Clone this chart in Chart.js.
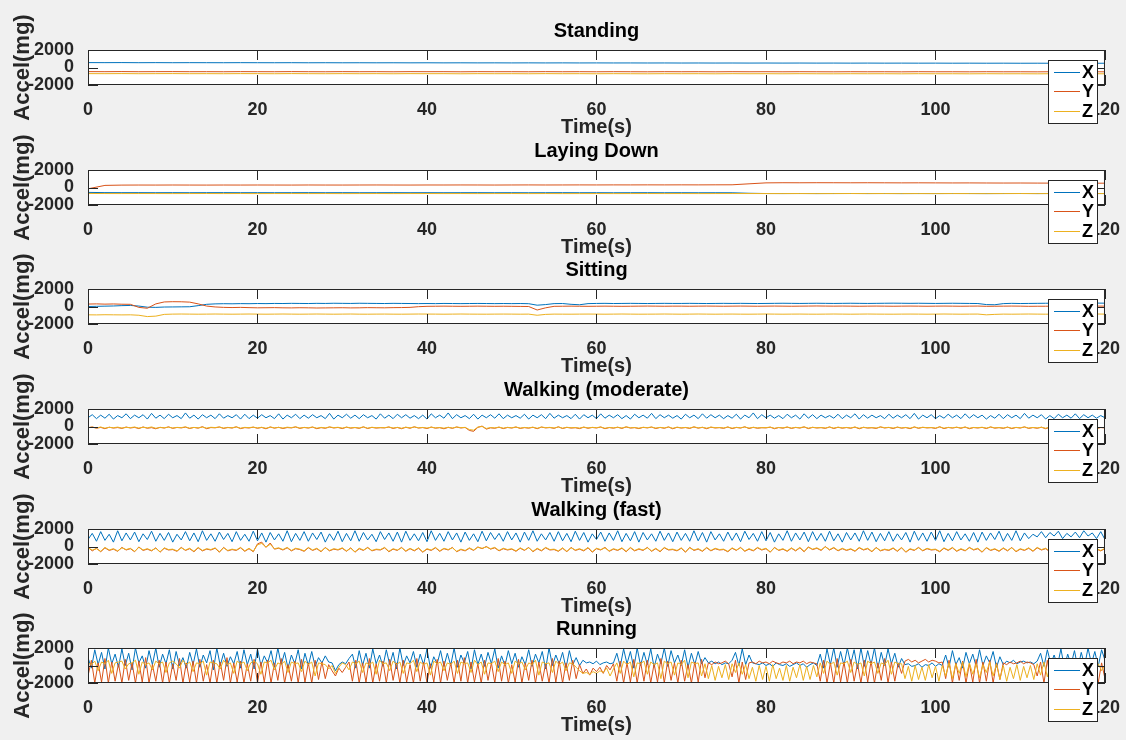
<!DOCTYPE html>
<html>
<head>
<meta charset="utf-8">
<title>Accelerometer activity recordings</title>
<script src="https://cdn.jsdelivr.net/npm/chart.js@4.4.1/dist/chart.umd.min.js"></script>
<style>
  html, body { margin: 0; padding: 0; background: #f0f0f0; width: 1126px; height: 740px; overflow: hidden; }
  #fig { position: relative; width: 1126px; height: 740px; background: #f0f0f0; }
  .panel { position: absolute; left: 0; width: 1126px; height: 170px; }
  .panel canvas { display: block; }
</style>
</head>
<body>
<div id="fig"></div>
<script>
// ---- sampling grids (seconds) ----
const tSlow = Array.from({ length: 61 }, (_, i) => i * 2);     // every 2 s
const tSit  = Array.from({ length: 121 }, (_, i) => i);        // every 1 s
const tWalk = Array.from({ length: 241 }, (_, i) => i * 0.5);  // every 0.5 s
const tRun  = Array.from({ length: 301 }, (_, i) => +(i * 0.4).toFixed(1)); // every 0.4 s

const axisLabels = { x: 'Time(s)', y: 'Accel(mg)' };
const seriesNames = ['X', 'Y', 'Z'];
const xTicks = [0, 20, 40, 60, 80, 100, 120];
const yTicks = [-2000, 0, 2000];
const activities = ['Standing', 'Laying Down', 'Sitting', 'Walking (moderate)', 'Walking (fast)', 'Running'];

// ---- Standing (mg) ----
const standX = [
  560, 555, 562, 550, 556, 548, 553, 550, 545, 552,
  547, 543, 549, 540, 546, 538, 542, 536, 541, 533,
  538, 530, 534, 528, 532, 525, 530, 522, 527, 520,
  524, 518, 521, 515, 519, 512, 516, 510, 514, 507,
  511, 505, 509, 502, 506, 500, 504, 497, 501, 495,
  499, 492, 496, 490, 494, 487, 491, 485, 489, 482,
  486];
const standY = [
  -470, -478, -465, -482, -474, -469, -480, -476, -485, -471,
  -477, -483, -468, -479, -486, -473, -481, -475, -488, -472,
  -480, -476, -490, -474, -482, -479, -487, -473, -484, -478,
  -489, -476, -483, -491, -478, -485, -480, -492, -477, -486,
  -482, -490, -479, -487, -493, -481, -488, -484, -495, -480,
  -489, -486, -494, -482, -490, -487, -496, -483, -491, -488,
  -492];
const standZ = [
  -700, -706, -695, -710, -702, -698, -708, -704, -712, -699,
  -705, -711, -697, -707, -714, -701, -709, -703, -716, -700,
  -708, -704, -718, -702, -710, -707, -715, -701, -712, -706,
  -717, -704, -711, -719, -706, -713, -708, -720, -705, -714,
  -710, -718, -707, -715, -721, -709, -716, -712, -723, -708,
  -717, -714, -722, -710, -718, -715, -724, -711, -719, -716,
  -720];

// ---- Laying down (mg) ----
const layX = [
  -560, -585, -590, -588, -593, -589, -595, -591, -587, -594,
  -590, -596, -592, -588, -595, -591, -597, -593, -589, -596,
  -592, -598, -594, -590, -597, -593, -599, -595, -591, -598,
  -594, -600, -596, -592, -599, -595, -601, -597, -600, -660,
  -690, -692, -688, -694, -690, -686, -692, -689, -694, -690,
  -693, -688, -691, -695, -690, -687, -693, -689, -694, -691,
  -690];
const layY = [
  -150, 240, 275, 282, 278, 285, 280, 276, 283, 279,
  284, 281, 277, 286, 282, 279, 285, 288, 283, 280,
  287, 284, 290, 286, 282, 289, 293, 287, 291, 296,
  292, 298, 295, 301, 297, 303, 299, 306, 310, 420,
  530, 545, 540, 548, 543, 538, 544, 536, 530, 534,
  527, 520, 524, 516, 510, 514, 505, 500, 503, 496,
  492];
const layZ = [
  -680, -690, -694, -688, -692, -696, -690, -687, -693, -689,
  -695, -691, -688, -694, -690, -697, -692, -689, -695, -691,
  -688, -694, -690, -696, -692, -689, -695, -691, -697, -693,
  -690, -695, -692, -688, -694, -690, -696, -692, -689, -690,
  -692, -694, -690, -696, -692, -688, -694, -691, -696, -692,
  -695, -690, -693, -697, -692, -689, -695, -691, -696, -693,
  -692];

// ---- Sitting (mg) ----
const sitX = [
  0, 20, 40, 60, 100, 120, 50, -80, -100, -60,
  -50, -40, -30, 100, 250, 300, 320, 310, 330, 320,
  340, 330, 350, 340, 360, 350, 340, 360, 350, 370,
  360, 350, 370, 360, 350, 340, 360, 350, 340, 330,
  340, 330, 350, 340, 330, 340, 350, 340, 330, 340,
  330, 340, 320, 150, 220, 330, 340, 250, 200, 330,
  350, 360, 340, 350, 360, 350, 340, 350, 360, 350,
  350, 360, 350, 340, 350, 360, 350, 360, 350, 340,
  350, 360, 370, 360, 350, 360, 370, 360, 350, 360,
  370, 360, 350, 360, 370, 380, 370, 360, 370, 360,
  350, 360, 370, 360, 350, 340, 220, 200, 330, 360,
  340, 350, 360, 370, 380, 390, 380, 370, 380, 390,
  380];
const sitY = [
  280, 300, 270, 290, 260, 250, -100, -200, 300, 520,
  550, 540, 500, 300, 50, -50, -100, -120, -100, -130,
  -150, -140, -130, -150, -160, -140, -150, -170, -160, -150,
  -140, -160, -150, -130, -140, -150, -130, -120, -100, -20,
  20, 30, 40, 30, 20, 30, 40, 30, 20, 30,
  20, 10, 0, -400, -150, 20, 30, 40, 30, 20,
  30, 40, 30, 20, 30, 40, 50, 40, 30, 40,
  40, 30, 40, 50, 40, 30, 40, 50, 40, 30,
  40, 50, 40, 30, 40, 50, 60, 50, 40, 50,
  40, 30, 40, 50, 40, 30, 40, 50, 40, 30,
  40, 50, 40, 30, 40, 50, 20, 30, 40, 50,
  40, 20, 30, 30, 40, 50, 40, 30, 40, 50,
  40];
const sitZ = [
  -950, -960, -940, -950, -960, -950, -1000, -1150, -1100, -900,
  -870, -860, -870, -880, -870, -860, -870, -880, -870, -860,
  -870, -880, -870, -860, -870, -880, -870, -860, -870, -880,
  -870, -860, -875, -880, -870, -865, -875, -880, -870, -860,
  -865, -870, -880, -870, -860, -870, -875, -880, -870, -865,
  -870, -880, -870, -1000, -900, -870, -875, -880, -870, -865,
  -870, -880, -870, -860, -870, -880, -875, -870, -860, -870,
  -880, -870, -860, -870, -880, -870, -865, -875, -880, -870,
  -860, -870, -880, -870, -865, -875, -880, -870, -860, -870,
  -880, -870, -860, -870, -875, -880, -870, -865, -870, -880,
  -870, -860, -870, -880, -870, -865, -950, -900, -870, -880,
  -870, -860, -870, -880, -870, -865, -875, -880, -870, -860,
  -870];

// ---- Walking, moderate pace (mg) ----
const walkModX = [
  1000, 1350, 900, 1300, 950, 1400, 850, 1250, 1000, 1450,
  900, 1300, 1000, 1350, 850, 1500, 950, 1300, 900, 1400,
  1000, 1250, 900, 1550, 950, 1300, 850, 1350, 1000, 1300,
  900, 1450, 950, 1250, 1000, 1350, 850, 1400, 900, 1300,
  950, 1350, 1000, 1250, 900, 1450, 850, 1300, 1000, 1400,
  900, 1300, 950, 1350, 1000, 1250, 900, 1500, 850, 1300,
  1000, 1400, 950, 1300, 900, 1350, 1000, 1250, 850, 1450,
  950, 1300, 900, 1400, 1000, 1350, 950, 1250, 900, 1300,
  850, 1450, 1000, 1300, 950, 1550, 900, 1350, 1000, 1250,
  900, 1400, 850, 1300, 1000, 1350, 950, 1450, 900, 1300,
  1000, 1250, 950, 1400, 850, 1300, 1000, 1350, 900, 1500,
  950, 1300, 1000, 1250, 900, 1400, 850, 1350, 1000, 1300,
  900, 1450, 950, 1300, 1000, 1350, 900, 1250, 850, 1400,
  1000, 1300, 950, 1500, 900, 1350, 1000, 1300, 950, 1250,
  850, 1400, 1000, 1300, 900, 1450, 950, 1350, 1000, 1300,
  900, 1250, 950, 1400, 850, 1300, 1000, 1550, 900, 1350,
  1000, 1300, 950, 1250, 900, 1400, 1000, 1300, 850, 1450,
  950, 1350, 900, 1300, 1000, 1250, 950, 1400, 900, 1300,
  1000, 1450, 850, 1350, 950, 1300, 1000, 1250, 900, 1400,
  950, 1300, 1000, 1350, 900, 1500, 850, 1300, 1000, 1350,
  900, 1250, 950, 1400, 1000, 1300, 900, 1450, 950, 1350,
  1000, 1300, 850, 1250, 950, 1400, 900, 1350, 1000, 1300,
  900, 1500, 950, 1300, 1000, 1350, 850, 1250, 900, 1400,
  1000, 1300, 950, 1450, 900, 1350, 1000, 1300, 950, 1250,
  1000];
const walkModY = [
  -150, -50, -200, -100, -250, -80, -180, -120, -220, -60,
  -170, -100, -240, -50, -200, -130, -260, -90, -180, -40,
  -210, -110, -160, -70, -230, -100, -190, -20, -250, -120,
  -150, -60, -220, -100, -180, -40, -240, -130, -170, -80,
  -200, -110, -260, -60, -190, -90, -230, -120, -160, -50,
  -220, -100, -180, -70, -250, -130, -200, -60, -170, -110,
  -240, -80, -190, -120, -210, -50, -230, -100, -180, -140,
  -160, -60, -220, -110, -250, -90, -200, -40, -180, -120,
  -230, -70, -190, -130, -260, -100, -210, -60, -170, -110,
  -450, -550, -100, 50, -300, -150, -200, -80, -240, -110,
  -180, -60, -220, -130, -190, -90, -250, -70, -160, -120,
  -210, -40, -230, -100, -180, -140, -240, -80, -200, -110,
  -170, -60, -250, -120, -190, -90, -220, -50, -180, -130,
  -240, -100, -160, -70, -230, -110, -200, -60, -260, -90,
  -180, -120, -220, -50, -190, -100, -250, -80, -170, -130,
  -210, -60, -240, -110, -180, -40, -230, -100, -200, -140,
  -160, -80, -250, -120, -190, -70, -220, -110, -180, -50,
  -240, -100, -170, -130, -210, -60, -230, -90, -190, -120,
  -200, -70, -260, -100, -180, -140, -220, -50, -170, -110,
  -230, -80, -190, -120, -250, -60, -210, -100, -160, -130,
  -220, -40, -240, -110, -180, -90, -200, -70, -250, -120,
  -170, -100, -230, -60, -190, -130, -210, -80, -240, -110,
  -180, -50, -220, -120, -200, -90, -250, -70, -170, -130,
  -210, -100, -190, -60, -240, -110, -180, -80, -230, -120,
  -160];
const walkModZ = [
  -120, -80, -160, -60, -190, -100, -140, -70, -170, -110,
  -130, -60, -180, -90, -150, -50, -200, -120, -140, -80,
  -170, -100, -130, -40, -190, -110, -150, -70, -180, -90,
  -120, -60, -170, -130, -140, -50, -190, -100, -130, -70,
  -160, -90, -200, -60, -150, -110, -180, -80, -130, -40,
  -170, -120, -140, -60, -190, -100, -160, -50, -130, -90,
  -180, -70, -150, -110, -170, -40, -190, -90, -140, -120,
  -130, -60, -170, -100, -200, -80, -150, -50, -140, -110,
  -180, -70, -160, -120, -190, -90, -170, -60, -130, -100,
  -350, -420, -60, 0, -220, -120, -160, -70, -190, -100,
  -140, -60, -180, -110, -150, -80, -200, -60, -130, -100,
  -170, -50, -190, -90, -140, -120, -180, -70, -160, -100,
  -130, -60, -200, -110, -150, -80, -170, -40, -140, -120,
  -190, -90, -130, -60, -180, -100, -160, -50, -200, -80,
  -140, -110, -170, -40, -150, -90, -190, -70, -130, -120,
  -160, -60, -190, -100, -140, -50, -180, -90, -150, -130,
  -130, -70, -200, -110, -150, -60, -170, -100, -140, -40,
  -190, -90, -140, -120, -170, -60, -180, -80, -150, -110,
  -160, -60, -200, -90, -140, -130, -170, -50, -130, -100,
  -180, -70, -150, -110, -190, -50, -160, -90, -130, -120,
  -170, -40, -190, -100, -140, -80, -160, -60, -200, -110,
  -130, -90, -180, -50, -150, -120, -170, -70, -190, -100,
  -140, -50, -170, -110, -160, -80, -200, -60, -130, -120,
  -170, -90, -150, -50, -190, -100, -140, -70, -180, -110,
  -130];

// ---- Walking, fast pace (mg) ----
const walkFastX = [
  800, 1500, 600, 1700, 700, 1400, 500, 1800, 650, 1550,
  750, 1650, 550, 1450, 800, 1750, 600, 1500, 700, 1600,
  500, 1400, 750, 1700, 650, 1550, 550, 1800, 700, 1450,
  600, 1650, 800, 1500, 550, 1700, 700, 1400, 600, 1750,
  650, 1550, 500, 1600, 750, 1450, 600, 1800, 550, 1500,
  700, 1700, 600, 1550, 800, 1650, 500, 1450, 700, 1750,
  550, 1500, 650, 1800, 600, 1600, 750, 1400, 550, 1700,
  800, 1550, 600, 1650, 500, 1750, 700, 1450, 650, 1600,
  550, 1800, 700, 1500, 600, 1700, 750, 1550, 500, 1650,
  700, 1450, 550, 1750, 650, 1600, 800, 1500, 600, 1700,
  750, 1550, 500, 1650, 700, 1800, 600, 1450, 750, 1600,
  600, 1700, 650, 1500, 550, 1750, 700, 1600, 500, 1450,
  800, 1650, 600, 1550, 700, 1800, 550, 1500, 650, 1700,
  500, 1600, 750, 1450, 600, 1750, 700, 1550, 550, 1650,
  700, 1500, 600, 1800, 650, 1600, 500, 1700, 750, 1450,
  600, 1650, 700, 1550, 550, 1750, 800, 1500, 600, 1700,
  650, 1600, 500, 1450, 700, 1800, 600, 1550, 750, 1650,
  550, 1700, 700, 1500, 600, 1750, 650, 1450, 500, 1600,
  750, 1550, 600, 1800, 700, 1650, 550, 1500, 650, 1700,
  600, 1450, 750, 1600, 500, 1750, 700, 1550, 600, 1650,
  700, 1800, 550, 1500, 650, 1700, 750, 1450, 600, 1600,
  500, 1650, 700, 1550, 800, 1750, 600, 1500, 700, 1800,
  650, 1550, 900, 1400, 1100, 1700, 1000, 1600, 1200, 1750,
  900, 1500, 1100, 1650, 1000, 1800, 1200, 1550, 900, 1700,
  800];
const walkFastY = [
  -100, -500, -200, -600, -150, -450, -300, -550, -100, -400,
  -250, -600, -50, -450, -300, -500, -150, -650, -200, -400,
  -350, -550, -100, -450, -250, -600, -150, -500, -300, -400,
  -200, -650, -100, -500, -350, -450, -150, -550, -250, -600,
  300, 500, -100, 400, -300, -200, -400, -150, -500, -250,
  -350, -550, -150, -450, -250, -600, -100, -500, -300, -400,
  -200, -550, -150, -650, -250, -450, -100, -500, -350, -400,
  -150, -600, -300, -450, -100, -550, -250, -500, -200, -650,
  -300, -450, -150, -550, -250, -400, -100, -600, -350, -500,
  -200, -450, -50, -250, 0, -300, -150, -500, -250, -400,
  -300, -550, -200, -450, -100, -600, -250, -500, -150, -400,
  -350, -550, -200, -600, -100, -450, -300, -500, -150, -650,
  -250, -400, -100, -550, -300, -450, -200, -600, -150, -500,
  -300, -450, -100, -550, -250, -600, -150, -400, -350, -500,
  -200, -650, -100, -450, -300, -550, -150, -500, -250, -400,
  -350, -600, -200, -450, -100, -550, -300, -500, -150, -400,
  -250, -650, -100, -450, -300, -550, -200, -500, -150, -600,
  -50, -350, -200, -450, 0, -400, -150, -500, -250, -450,
  -300, -550, -150, -400, -250, -600, -100, -500, -350, -450,
  -200, -550, -150, -650, -300, -450, -100, -500, -250, -400,
  -350, -600, -200, -450, -150, -550, -300, -500, -100, -400,
  -250, -650, -150, -450, -300, -550, -200, -500, -100, -600,
  -300, -450, -200, -550, -150, -400, -250, -600, -100, -500,
  -350, -450, -150, -550, -250, -400, -200, -600, -300, -500,
  -250];
const walkFastZ = [
  -150, -400, -250, -550, -100, -400, -250, -500, -150, -350,
  -200, -550, -100, -400, -250, -450, -200, -600, -150, -350,
  -300, -500, -150, -400, -200, -550, -100, -450, -250, -350,
  -150, -600, -150, -450, -300, -400, -100, -500, -200, -550,
  200, 350, -50, 250, -250, -150, -350, -100, -450, -200,
  -300, -500, -100, -400, -200, -550, -150, -450, -250, -350,
  -150, -500, -200, -600, -200, -400, -150, -450, -300, -350,
  -100, -550, -250, -400, -150, -500, -200, -450, -150, -600,
  -250, -400, -100, -500, -200, -350, -150, -550, -300, -450,
  -150, -400, -100, -200, -50, -250, -100, -450, -200, -350,
  -250, -500, -150, -400, -150, -550, -200, -450, -100, -350,
  -300, -500, -150, -550, -150, -400, -250, -450, -100, -600,
  -200, -350, -150, -500, -250, -400, -150, -550, -100, -450,
  -250, -400, -150, -500, -200, -550, -100, -350, -300, -450,
  -150, -600, -150, -400, -250, -500, -100, -450, -200, -350,
  -300, -550, -150, -400, -150, -500, -250, -450, -100, -350,
  -200, -600, -150, -400, -250, -500, -150, -450, -100, -550,
  -100, -300, -150, -400, -50, -350, -100, -450, -200, -400,
  -250, -500, -100, -350, -200, -550, -150, -450, -300, -400,
  -150, -500, -100, -600, -250, -400, -150, -450, -200, -350,
  -300, -550, -150, -400, -100, -500, -250, -450, -150, -350,
  -200, -600, -100, -400, -250, -500, -150, -450, -150, -550,
  -250, -400, -150, -500, -100, -350, -200, -550, -150, -450,
  -300, -400, -100, -500, -200, -350, -150, -550, -250, -450,
  -200];

// ---- Running (mg) ----
const runX = [
  900, -300, 1800, 100, 1500, -400, 2000, 200, 1300, -200,
  1900, 0, 1400, -500, 2000, 300, 1100, -300, 1700, 100,
  2000, -200, 1300, 200, 1800, -400, 1600, 0, 900, -300,
  1500, 100, 1900, -200, 1200, 300, 1700, -500, 2000, 0,
  1400, -100, 1000, 200, 1600, -300, 1800, 100, 1300, -400,
  1900, 0, 1100, 300, 1700, -200, 2000, 100, 1500, -300,
  1200, 200, 1800, -400, 1400, 0, 1600, -100, 900, 300,
  1100, 400, 300, -600, 100, 400, 200, 800, 1300, -300,
  1700, 0, 1400, -300, 1900, 200, 1200, -100, 1800, 100,
  1500, -400, 2000, 0, 1100, 300, 1600, -200, 1300, 100,
  1900, -300, 1000, 200, 1700, -100, 1400, 0, 2000, -200,
  1200, 300, 1600, -400, 1800, 100, 1300, -100, 1500, 200,
  1900, -300, 1100, 0, 1700, 200, 1400, -200, 1000, 100,
  1800, -100, 1300, 300, 1600, -400, 2000, 0, 1200, 200,
  1500, -300, 1700, 100, 900, 0, 600, 300, 400, 200,
  500, 100, 300, 400, 200, 300, 1400, -100, 1900, 200,
  1600, -300, 2000, 0, 1500, 100, 1900, -200, 1300, 200,
  2000, -100, 1700, 300, 1200, 0, 1800, -200, 1400, 100,
  1600, 200, 900, 300, 500, 200, 400, 100, 300, 200,
  600, 1500, 0, 1900, 100, 1200, 300, 200, 100, 300,
  0, 200, -100, 300, 100, 0, 200, -100, 100, 300,
  0, 200, -200, 100, 300, 0, 1300, -300, 1900, 100,
  2000, -200, 1600, 0, 2000, 200, 1800, -400, 2000, -100,
  1700, 100, 2000, -300, 1500, 0, 1900, 200, 1400, -200,
  800, 100, 200, -100, 0, 200, -200, 100, 0, 300,
  -100, 200, 0, 1200, -200, 1700, 100, 900, -300, 1500,
  200, 1300, -100, 1800, 0, 1100, 300, 1600, -200, 1000,
  100, 500, 300, 600, 200, 400, 500, 300, 400, 200,
  500, 1400, -100, 1800, 200, 1200, 0, 1900, -200, 1300,
  100, 1700, -300, 1500, 0, 2000, 200, 1600, -100, 1800,
  600];
const runY = [
  -1200, 600, -2000, 300, -1900, 800, -2000, 400, -1800, 200,
  -2000, 700, -1700, 300, -2000, 500, -1900, 900, -2000, 100,
  -1800, 600, -2000, 400, -2000, 200, -1700, 800, -2000, 300,
  -1900, 500, -2000, 700, -1800, 100, -2000, 600, -2000, 400,
  -1700, 900, -2000, 300, -1900, 500, -2000, 200, -1800, 700,
  -2000, 400, -1900, 600, -2000, 300, -1700, 800, -2000, 100,
  -1800, 500, -2000, 700, -1900, 300, -2000, 600, -1600, 400,
  -1500, 100, -600, -1200, -300, -800, -200, 400, -1800, 600,
  -2000, 300, -1900, 800, -2000, 200, -1800, 500, -2000, 700,
  -1700, 300, -2000, 600, -1900, 100, -2000, 800, -1800, 400,
  -2000, 200, -1900, 700, -2000, 500, -1700, 300, -2000, 600,
  -1800, 900, -2000, 400, -1900, 200, -2000, 600, -1700, 300,
  -2000, 800, -1800, 500, -2000, 100, -1900, 700, -2000, 300,
  -1700, 600, -2000, 400, -1800, 200, -2000, 800, -1900, 500,
  -2000, 300, -1700, 600, -1500, 100, -900, -400, -1100, -300,
  -700, -200, -900, 0, -500, 200, -1800, 500, -2000, 300,
  -1900, 700, -2000, 400, -1800, 600, -2000, 200, -1900, 800,
  -2000, 500, -1700, 300, -2000, 600, -1800, 100, -2000, 400,
  -1900, 700, -1400, 300, 100, 400, 200, 300, 500, 200,
  -1300, 600, -2000, 400, -1600, 300, 400, 200, 500, 300,
  400, 200, 500, 300, 200, 400, 300, 500, 200, 400,
  300, 500, 200, 400, 300, 200, -1800, 600, -2000, 300,
  -2000, 800, -1900, 400, -2000, 700, -1800, 200, -2000, 600,
  -1900, 500, -2000, 300, -1700, 800, -2000, 400, -1800, 300,
  -900, 500, 700, 400, 600, 300, 500, 700, 400, 600,
  500, 300, 400, -1500, 600, -2000, 300, -1700, 500, -2000,
  200, -1900, 700, -2000, 400, -1800, 600, -2000, 300, -1600,
  300, 100, 400, 200, 300, 500, 200, 400, 300, 100,
  -1200, 400, -2000, 600, -1800, 300, -2000, 700, -1900, 200,
  -2000, 500, -1700, 300, -2000, 600, -1900, 400, -2000, 300,
  -1500];
const runZ = [
  300, 100, 500, -600, 400, 200, 600, -900, 300, 400,
  500, -400, 200, 300, 600, -1000, 400, 100, 300, -500,
  500, 200, 400, -800, 300, 500, 200, -300, 600, 100,
  400, -700, 300, 200, 500, -1100, 400, 300, 200, -400,
  600, 100, 300, -900, 500, 200, 400, -600, 300, 500,
  200, -1000, 400, 300, 600, -500, 300, 100, 500, -800,
  400, 200, 300, -700, 500, 100, 400, -1200, 300, 200,
  100, -400, 0, -900, -200, 300, 100, -500, 400, 200,
  500, -800, 300, 100, 400, -1000, 600, 200, 300, -600,
  500, 100, 400, -900, 300, 200, 600, -700, 400, 100,
  300, -1100, 500, 200, 400, -600, 300, 100, 500, -900,
  400, 200, 300, -800, 600, 100, 400, -1000, 300, 200,
  500, -700, 400, 100, 300, -900, 500, 200, 400, -500,
  300, 100, 600, -1100, 400, 200, 300, -800, 500, 100,
  400, -600, 300, 200, -200, -600, -900, -800, -1000, -700,
  -900, -600, -800, -300, -1200, -400, 300, -900, 500, 100,
  400, -1300, 300, 200, 500, -1000, 400, 100, 300, -1500,
  500, 200, 400, -1100, 300, 100, 600, -1400, 400, 200,
  300, -1200, 200, -1500, 0, -1700, -100, -1400, 100, -1600,
  200, -800, 300, -1000, 100, -1500, -200, -1800, 0, -1600,
  -100, -1800, 100, -1500, -300, -1700, 0, -1800, -200, -1400,
  100, -1700, -100, -1600, 0, -1300, 300, -900, 500, 100,
  400, -1100, 300, 200, 500, -800, 400, 100, 300, -1200,
  500, 200, 400, -900, 300, 100, 600, -1000, 400, 200,
  200, -1500, -100, -1800, 0, -1600, -200, -1700, 100, -1400,
  -100, -1800, 0, -1200, 300, -1500, 200, -900, 400, -1300,
  300, -1000, 200, -1400, 100, -800, 400, -1200, 200, -1600,
  0, -1800, -200, -1500, 100, -1700, -100, -1400, 0, -1600,
  200, -1100, 400, -1300, 300, -900, 100, -1500, 400, -1000,
  300, -1200, 200, -800, 500, -1400, 300, -1100, 200, -600,
  100];

// ---- appearance ----
const FONT = "'Liberation Sans', Arial, Helvetica, sans-serif";
const INK = '#262626';
const COLORS = ['#0072BD', '#D95319', '#EDB120'];
const BOX_TOPS = [50, 170, 289, 409, 529, 648];   // top edge of each axes box in the figure
const TICK_LEN = 10;

// Axes box, inward tick marks and the small boxed legend of each subplot
const axesFrame = {
  id: 'axesFrame',
  beforeDatasetsDraw(chart) {
    const { ctx, chartArea: a } = chart;
    ctx.save();
    ctx.fillStyle = '#ffffff';
    ctx.fillRect(a.left, a.top, a.right - a.left, a.bottom - a.top);
    ctx.restore();
  },
  afterDatasetsDraw(chart) {
    const { ctx, chartArea: a, scales: { x, y } } = chart;
    ctx.save();
    ctx.strokeStyle = INK;
    ctx.lineWidth = 1;
    ctx.beginPath();
    x.ticks.forEach(t => {
      const px = Math.round(x.getPixelForValue(t.value)) + 0.5;
      ctx.moveTo(px, a.top); ctx.lineTo(px, a.top + TICK_LEN);
      ctx.moveTo(px, a.bottom); ctx.lineTo(px, a.bottom - TICK_LEN);
    });
    y.ticks.forEach(t => {
      const py = Math.round(y.getPixelForValue(t.value)) + 0.5;
      ctx.moveTo(a.left, py); ctx.lineTo(a.left + TICK_LEN, py);
      ctx.moveTo(a.right, py); ctx.lineTo(a.right - TICK_LEN, py);
    });
    ctx.stroke();
    ctx.strokeRect(a.left + 0.5, a.top + 0.5, a.right - a.left - 1, a.bottom - a.top - 1);
    ctx.restore();
  },
  afterDraw(chart) {
    const { ctx, chartArea: a } = chart;
    const lx = 1048, ly = a.top + 10, lw = 50, lh = 64;
    ctx.save();
    ctx.fillStyle = '#ffffff';
    ctx.fillRect(lx, ly, lw, lh);
    ctx.strokeStyle = INK;
    ctx.lineWidth = 1;
    ctx.strokeRect(lx + 0.5, ly + 0.5, lw - 1, lh - 1);
    ctx.font = 'bold 18px ' + FONT;
    ctx.textAlign = 'left';
    ctx.textBaseline = 'middle';
    chart.data.datasets.forEach((ds, i) => {
      const cy = Math.round(ly + 11.5 + i * 19.7) + 0.5;
      ctx.strokeStyle = ds.borderColor;
      ctx.beginPath();
      ctx.moveTo(lx + 6, cy); ctx.lineTo(lx + 32, cy);
      ctx.stroke();
      ctx.fillStyle = '#000000';
      ctx.fillText(ds.label, lx + 34, cy + 1);
    });
    ctx.restore();
  }
};

const fig = document.getElementById('fig');

function subplot(slot, t, xs, ys, zs) {
  const wrap = document.createElement('div');
  wrap.className = 'panel';
  wrap.style.top = (BOX_TOPS[slot] - 50) + 'px';
  const cv = document.createElement('canvas');
  cv.width = 1126; cv.height = 170;
  cv.style.width = '1126px'; cv.style.height = '170px';
  wrap.appendChild(cv);
  fig.appendChild(wrap);

  const pts = v => t.map((tt, i) => ({ x: tt, y: v[i] }));
  const series = [xs, ys, zs];

  new Chart(cv, {
    type: 'line',
    data: {
      datasets: series.map((v, k) => ({
        label: seriesNames[k],
        data: pts(v),
        borderColor: COLORS[k],
        backgroundColor: COLORS[k],
        borderWidth: 1,
        pointRadius: 0,
        tension: 0,
        fill: false,
        order: 2 - k
      }))
    },
    options: {
      responsive: false,
      animation: false,
      events: [],
      devicePixelRatio: 1,
      layout: { padding: { left: 0, right: 20, top: 0, bottom: 25 }, autoPadding: false },
      plugins: {
        legend: { display: false },
        tooltip: { enabled: false },
        title: {
          display: true,
          text: activities[slot],
          fullSize: false,
          color: '#000000',
          font: { family: FONT, size: 20, weight: 'bold', lineHeight: 1.2 },
          padding: { top: 19, bottom: 7 }
        }
      },
      scales: {
        x: {
          type: 'linear',
          min: xTicks[0], max: xTicks[xTicks.length - 1],
          grid: { display: false },
          border: { display: false },
          afterBuildTicks: s => { s.ticks = xTicks.map(v => ({ value: v })); },
          ticks: {
            autoSkip: false, maxRotation: 0, padding: 6, color: INK,
            font: { family: FONT, size: 18, weight: 'bold', lineHeight: 1.2 },
            callback: v => String(v)
          },
          title: {
            display: true, text: axisLabels.x, color: INK,
            font: { family: FONT, size: 20, weight: 'bold', lineHeight: 1.2 },
            padding: { top: 0, bottom: 6 }
          },
          afterFit: s => { s.height = 60; }
        },
        y: {
          type: 'linear',
          min: yTicks[0], max: yTicks[yTicks.length - 1],
          grid: { display: false },
          border: { display: false },
          afterBuildTicks: s => { s.ticks = yTicks.map(v => ({ value: v })); },
          ticks: {
            autoSkip: false, padding: 6, color: INK,
            font: { family: FONT, size: 18, weight: 'bold', lineHeight: 1.2 },
            callback: v => String(v)
          },
          title: {
            display: true, text: axisLabels.y, color: INK,
            font: { family: FONT, size: 22, weight: 'bold', lineHeight: 1.2 },
            padding: { top: 10, bottom: 0 }
          },
          afterFit: s => { s.width = 88; }
        }
      }
    },
    plugins: [axesFrame]
  });
}

subplot(0, tSlow, standX, standY, standZ);
subplot(1, tSlow, layX, layY, layZ);
subplot(2, tSit, sitX, sitY, sitZ);
subplot(3, tWalk, walkModX, walkModY, walkModZ);
subplot(4, tWalk, walkFastX, walkFastY, walkFastZ);
subplot(5, tRun, runX, runY, runZ);
</script>
</body>
</html>
